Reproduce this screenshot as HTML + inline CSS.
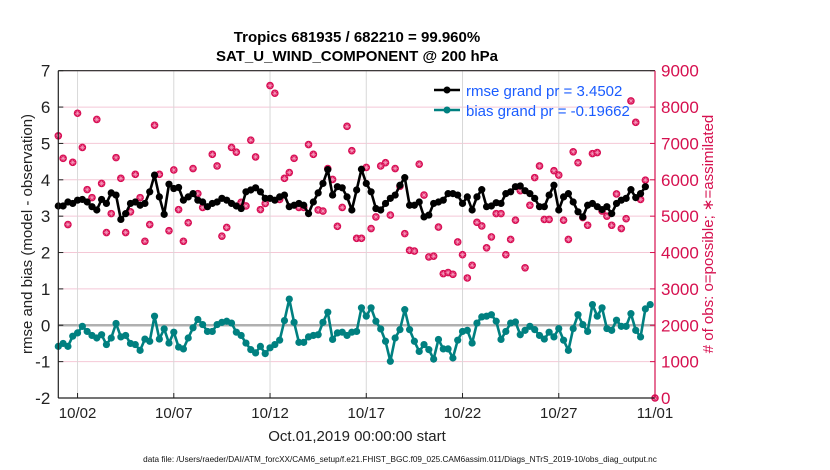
<!DOCTYPE html>
<html><head><meta charset="utf-8"><style>
html,body{margin:0;padding:0;background:#fff;width:830px;height:470px;overflow:hidden}
svg text{font-family:"Liberation Sans",sans-serif}
</style></head><body>
<svg id="chart" width="830" height="470" viewBox="0 0 830 470" xmlns="http://www.w3.org/2000/svg">
<g id="grid"></g>
<g id="series"></g>
<g id="axes"></g>
<text x="357" y="42" text-anchor="middle" font-size="15" font-weight="bold" style="font-family:'Liberation Sans Narrow','Liberation Sans',sans-serif">Tropics 681935 / 682210 = 99.960%</text>
<text x="357" y="61" text-anchor="middle" font-size="15" font-weight="bold" style="font-family:'Liberation Sans Narrow','Liberation Sans',sans-serif">SAT_U_WIND_COMPONENT @ 200 hPa</text>
<text transform="translate(32,234) rotate(-90)" text-anchor="middle" font-size="15" fill="#222">rmse and bias (model - observation)</text>
<text transform="translate(713,234) rotate(-90)" text-anchor="middle" font-size="15" fill="#d6104f"># of obs: o=possible; ∗=assimilated</text>
<text x="357" y="441" text-anchor="middle" font-size="15" fill="#222">Oct.01,2019 00:00:00 start</text>
<text x="400" y="462" text-anchor="middle" font-size="8.2" fill="#111">data file: /Users/raeder/DAI/ATM_forcXX/CAM6_setup/f.e21.FHIST_BGC.f09_025.CAM6assim.011/Diags_NTrS_2019-10/obs_diag_output.nc</text>
<g id="legend">
<line x1="434" y1="90" x2="460" y2="90" stroke="#000" stroke-width="2.5"/>
<circle cx="447" cy="90" r="3.5" fill="#000"/>
<text x="466" y="96" font-size="15" fill="#1a5cff">rmse grand pr = 3.4502</text>
<line x1="434" y1="110" x2="460" y2="110" stroke="#008080" stroke-width="2.5"/>
<circle cx="447" cy="110" r="3.5" fill="#008080"/>
<text x="466" y="116" font-size="15" fill="#1a5cff">bias grand pr = -0.19662</text>
</g>
</svg>
<script>
const rmse=[3.28,3.28,3.39,3.35,3.44,3.46,3.39,3.26,3.17,3.46,3.35,3.64,3.58,2.91,3.07,3.35,3.39,3.30,3.35,3.67,4.13,3.53,3.05,3.88,3.76,3.79,3.44,3.53,3.62,3.44,3.39,3.26,3.35,3.39,3.49,3.44,3.35,3.28,3.21,3.67,3.72,3.78,3.67,3.49,3.49,3.44,3.53,3.58,3.26,3.30,3.35,3.30,3.07,3.39,3.64,3.90,4.28,3.58,3.81,3.78,3.53,3.17,3.72,4.29,3.90,
3.67,3.21,3.17,3.35,3.49,3.58,3.85,4.06,3.30,3.30,3.39,2.98,3.03,3.35,3.39,3.44,3.62,3.62,3.58,3.35,3.53,3.17,3.53,3.73,3.26,3.28,3.37,3.35,3.62,3.67,3.81,3.83,3.70,3.62,3.49,3.26,3.26,3.58,3.85,3.17,3.53,3.62,3.39,3.12,2.98,3.30,3.35,3.26,3.18,3.26,3.07,3.35,3.44,3.49,3.73,3.51,3.62,3.81];
const bias=[-0.58,-0.50,-0.58,-0.30,-0.21,-0.03,-0.17,-0.28,-0.35,-0.26,-0.53,-0.35,0.05,-0.32,-0.28,-0.50,-0.53,-0.69,-0.38,-0.44,0.25,-0.38,-0.10,-0.49,-0.19,-0.60,-0.65,-0.35,-0.07,0.16,0.02,-0.17,-0.17,0.02,0.08,0.11,0.06,-0.19,-0.28,-0.49,-0.67,-0.76,-0.58,-0.78,-0.62,-0.53,-0.41,0.13,0.72,0.08,-0.47,-0.47,-0.32,-0.28,-0.26,0.08,0.36,-0.39,-0.21,-0.19,-0.28,-0.19,-0.17,0.48,0.25,
0.48,0.11,-0.10,-0.44,-0.99,-0.35,-0.12,0.43,-0.12,-0.44,-0.72,-0.53,-0.67,-0.93,-0.39,-0.65,-0.65,-0.90,-0.41,-0.17,-0.14,-0.49,0.06,0.23,0.25,0.29,0.11,-0.39,-0.17,0.06,0.09,-0.26,-0.14,-0.03,-0.12,-0.28,-0.38,-0.19,-0.32,-0.09,-0.41,-0.69,-0.09,0.29,0.02,-0.17,0.57,0.25,0.48,-0.09,-0.14,0.14,-0.03,-0.03,0.32,-0.14,-0.32,0.45,0.57];
const obsCount=[7210,6590,4770,6480,7830,6890,5730,5510,7660,5900,4550,5070,6610,6040,4550,5120,6150,5510,4310,4770,7500,6150,null,4600,6270,5180,4310,4820,6310,5620,5240,null,6700,6380,4450,4690,6890,6760,5380,5280,7090,6630,5180,5350,8590,8380,5460,6040,6200,6590,5240,5240,6970,6700,5170,5140,6310,6010,4720,5240,7470,6800,4390,4390,6340,
4660,4980,6380,6470,5030,6310,5820,4520,4060,4040,6430,5580,3880,3900,4700,3420,3450,3400,4290,3940,3300,3650,4830,4730,4130,4430,5070,5070,3940,4360,4890,5700,3580,5300,6060,6380,4910,4910,6250,6130,4890,4360,6770,6470,4960,4750,6720,6750,5140,5000,4750,5610,4660,4930,8170,7580,5460,5990,null,0];
const leftTicks=[-2,-1,0,1,2,3,4,5,6,7];
const rightTicks=[0,1000,2000,3000,4000,5000,6000,7000,8000,9000];
const dateTicks=[1,6,11,16,21,26,31];
const dateLabels=["10/02","10/07","10/12","10/17","10/22","10/27","11/01"];
const stepDays=0.25;

const X0=58.3,X1=655,Y0=398,Y1=70.7;
const xs=d=>X0+(X1-X0)*d/31;
const yl=v=>Y0-(Y0-Y1)*(v+2)/9;
const yr=c=>Y0-(Y0-Y1)*c/9000;
const NS="http://www.w3.org/2000/svg";
function mk(tag,attrs,parent){const e=document.createElementNS(NS,tag);for(const k in attrs)e.setAttribute(k,attrs[k]);parent.appendChild(e);return e;}
const grid=document.getElementById('grid'),ser=document.getElementById('series'),ax=document.getElementById('axes');

leftTicks.forEach(v=>{
  const l=mk('line',{x1:X0,x2:X1,y1:yl(v),y2:yl(v),stroke:'#f4c8d6','stroke-width':1},grid);
  
  
  const t=mk('line',{x1:X0,x2:X0+5,y1:yl(v),y2:yl(v),stroke:'#222'},ax);
  
  
  const tx=mk('text',{x:X0-8,y:yl(v)+6,'text-anchor':'end','font-size':17,fill:'#222'},ax);
  tx.textContent=v;
  
  
});
rightTicks.forEach(c=>{
  const t=mk('line',{x1:X1-5,x2:X1,y1:yr(c),y2:yr(c),stroke:'#d6104f'},ax);
  
  
  const tx=mk('text',{x:X1+6,y:yr(c)+6,'font-size':17,fill:'#d6104f'},ax);
  tx.textContent=c;
  
  
});
dateTicks.forEach((d,i)=>{
  const l=mk('line',{x1:xs(d),x2:xs(d),y1:Y1,y2:Y0,stroke:'#d8d8d8','stroke-width':1},grid);
  
  
  const t=mk('line',{x1:xs(d),x2:xs(d),y1:Y0,y2:Y0-5,stroke:'#222'},ax);
  
  
  const tx=mk('text',{x:xs(d),y:Y0+20,'text-anchor':'middle','font-size':15,fill:'#222'},ax);
  tx.textContent=dateLabels[i];
  
  
});
const zl=mk('line',{x1:X0,x2:X1,y1:yl(0),y2:yl(0),stroke:'#b0b0b0','stroke-width':2.5},grid);



obsCount.forEach((c,i)=>{
  if(c===null)return;
  const cx=xs(i*stepDays),cy=yr(c);
  const g=mk('g',{},ser);
  
  
  mk('circle',{cx:cx,cy:cy,r:3.8,fill:'#d80f55'},g);
  mk('path',{d:`M${cx-2.6} ${cy}H${cx+2.6}M${cx} ${cy-2.6}V${cy+2.6}M${cx-1.8} ${cy-1.8}L${cx+1.8} ${cy+1.8}M${cx-1.8} ${cy+1.8}L${cx+1.8} ${cy-1.8}`,stroke:'#f7a0c0','stroke-width':0.6},g);
});
function series(vals,color,name){
  const p=mk('polyline',{points:vals.map((v,i)=>xs(i*stepDays)+','+yl(v)).join(' '),fill:'none',stroke:color,'stroke-width':2.6,'stroke-linejoin':'round'},ser);
  
  
  vals.forEach((v,i)=>{
    const c=mk('circle',{cx:xs(i*stepDays),cy:yl(v),r:3.6,fill:color},ser);
    
    
  });
}
series(rmse,'#000','rmse');
series(bias,'#008080','bias');

const la=mk('line',{x1:X0,x2:X0,y1:Y1,y2:Y0,stroke:'#222','stroke-width':1.2},ax);


const ta=mk('line',{x1:X0,x2:X1,y1:Y1,y2:Y1,stroke:'#222','stroke-width':1.2},ax);


const ba=mk('line',{x1:X0,x2:X1,y1:Y0,y2:Y0,stroke:'#222','stroke-width':1.2},ax);


const ra=mk('line',{x1:X1,x2:X1,y1:Y1,y2:Y0,stroke:'#d6104f','stroke-width':1.2},ax);


</script>
</body></html>
